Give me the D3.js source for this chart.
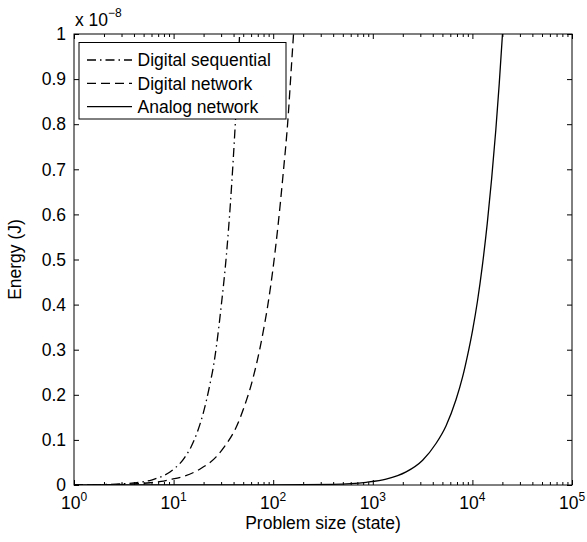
<!DOCTYPE html>
<html>
<head>
<meta charset="utf-8">
<script src="https://cdn.jsdelivr.net/npm/d3@7"></script>
<style>
  html, body { margin: 0; padding: 0; background: #fff; }
  svg { display: block; font-family: "Liberation Sans", Arial, Helvetica, sans-serif; }
</style>
</head>
<body>
<svg id="chart" width="587" height="542"></svg>
<script>
// ---- Data (energy in units of 1e-8 J) ----
const seqN = [1, 2, 3, 4, 5, 6, 7, 8, 9.2, 10.5, 11.5, 13, 15, 17.6, 20, 23, 25.5, 27, 30, 33.9, 37.2, 39.5, 41.7, 44, 46];
const seqE = [0, 0.001, 0.0025, 0.0046, 0.0074, 0.011, 0.016, 0.021, 0.029, 0.039, 0.047, 0.062, 0.085, 0.122, 0.162, 0.22, 0.272, 0.31, 0.395, 0.51, 0.625, 0.714, 0.804, 0.905, 1.0];

const netN = [1, 2, 3, 4, 5.8, 7.5, 9.2, 12.5, 18.3, 26.9, 33.9, 42.7, 53.7, 58, 62.7, 73.1, 80.1, 87, 99.3, 111.4, 125, 141.6, 150, 160];
const netE = [0, 0.0005, 0.0012, 0.0025, 0.005, 0.008, 0.012, 0.019, 0.035, 0.063, 0.091, 0.129, 0.187, 0.21, 0.237, 0.3, 0.345, 0.39, 0.478, 0.572, 0.683, 0.82, 0.905, 1.0];

const anaN = [1, 10, 100, 396, 857, 1360, 2160, 3165, 4310, 5430, 6840, 7960, 8930, 10020, 11250, 12600, 14100, 15600, 17180, 18600, 20050];
const anaE = [0, 0.00001, 0.0003, 0.0015, 0.006, 0.013, 0.029, 0.055, 0.092, 0.131, 0.189, 0.239, 0.287, 0.342, 0.408, 0.487, 0.58, 0.679, 0.787, 0.89, 1.0];

const seriesNames = ["Digital sequential", "Digital network", "Analog network"];
const xMajorTicks = [1, 10, 100, 1000, 10000, 100000];
const xTickExponents = ["0", "1", "2", "3", "4", "5"];
const yTicks = [0, 0.1, 0.2, 0.3, 0.4, 0.5, 0.6, 0.7, 0.8, 0.9, 1];
const yTickLabels = ["0", "0.1", "0.2", "0.3", "0.4", "0.5", "0.6", "0.7", "0.8", "0.9", "1"];

// ---- Layout ----
const L = 74, R = 572, T = 34, B = 485;
const FONT = 17.5;

const svg = d3.select("#chart");
const x = d3.scaleLog().domain([1, 1e5]).range([L, R]);
const y = d3.scaleLinear().domain([0, 1]).range([B, T]);

const xMinor = [];
for (let d = 0; d < 5; d++) for (let m = 2; m <= 9; m++) xMinor.push(m * Math.pow(10, d));

svg.append("clipPath").attr("id", "plotclip")
  .append("rect").attr("x", L).attr("y", T).attr("width", R - L).attr("height", B - T);

function styleAxis(g) {
  g.select(".domain").remove();
  g.selectAll(".tick line").attr("stroke", "#000").attr("stroke-width", 1);
  g.selectAll(".tick text").attr("fill", "#000").attr("font-size", FONT)
    .attr("font-family", '"Liberation Sans", Arial, sans-serif');
}

// Left axis
svg.append("g").attr("transform", `translate(${L},0)`)
  .call(d3.axisLeft(y).tickValues(yTicks).tickSize(-5).tickPadding(8)
    .tickFormat((d, i) => yTickLabels[i]))
  .call(styleAxis)
  .selectAll(".tick text").attr("dy", "0.33em");
// Right axis
svg.append("g").attr("transform", `translate(${R},0)`)
  .call(d3.axisRight(y).tickValues(yTicks).tickSize(-5).tickFormat(""))
  .call(styleAxis);
// Bottom axis major + minor
svg.append("g").attr("transform", `translate(0,${B})`)
  .call(d3.axisBottom(x).tickValues(xMajorTicks).tickSize(-5).tickFormat(""))
  .call(styleAxis);
svg.append("g").attr("transform", `translate(0,${B})`)
  .call(d3.axisBottom(x).tickValues(xMinor).tickSize(-3).tickFormat(""))
  .call(styleAxis);
// Top axis major + minor
svg.append("g").attr("transform", `translate(0,${T})`)
  .call(d3.axisTop(x).tickValues(xMajorTicks).tickSize(-5).tickFormat(""))
  .call(styleAxis);
svg.append("g").attr("transform", `translate(0,${T})`)
  .call(d3.axisTop(x).tickValues(xMinor).tickSize(-3).tickFormat(""))
  .call(styleAxis);

// x tick labels with superscripts
const xl = svg.append("g").selectAll("text").data(xMajorTicks).join("text")
  .attr("x", d => x(d)).attr("y", 509)
  .attr("text-anchor", "middle").attr("font-size", FONT).attr("fill", "#000");
xl.append("tspan").text("10");
xl.append("tspan").attr("dy", -8).attr("font-size", 12).text((d, i) => xTickExponents[i]);

// Frame
svg.append("rect").attr("x", L).attr("y", T).attr("width", R - L).attr("height", B - T)
  .attr("fill", "none").attr("stroke", "#000").attr("stroke-width", 1);

// Exponent label
const ex = svg.append("text").attr("x", 75).attr("y", 26).attr("font-size", FONT).attr("fill", "#000");
ex.append("tspan").text("x 10");
ex.append("tspan").attr("dy", -9).attr("font-size", 12).text("\u22128");

// Axis labels
svg.append("text").attr("x", (L + R) / 2).attr("y", 529).attr("text-anchor", "middle")
  .attr("font-size", FONT).attr("fill", "#000").text("Problem size (state)");
svg.append("text").attr("transform", `translate(21,${(T + B) / 2}) rotate(-90)`)
  .attr("text-anchor", "middle").attr("font-size", FONT).attr("fill", "#000").text("Energy (J)");

// Curves
const styles = [
  { dash: "9,4,1.5,4" },
  { dash: "9,5" },
  { dash: null }
];
const series = [
  seqN.map((n, i) => [n, seqE[i]]),
  netN.map((n, i) => [n, netE[i]]),
  anaN.map((n, i) => [n, anaE[i]])
];
const line = d3.line().x(d => x(d[0])).y(d => y(d[1])).curve(d3.curveMonotoneX);
const gl = svg.append("g").attr("clip-path", "url(#plotclip)");
series.forEach((s, i) => {
  gl.append("path").datum(s).attr("d", line)
    .attr("fill", "none").attr("stroke", "#000").attr("stroke-width", 1.3)
    .attr("stroke-dasharray", styles[i].dash);
});

// Legend
const lg = svg.append("g");
lg.append("rect").attr("x", 79).attr("y", 42.5).attr("width", 207).attr("height", 76.5)
  .attr("fill", "#fff").attr("stroke", "#000").attr("stroke-width", 1);
seriesNames.forEach((name, i) => {
  const cy = 60 + i * 23.3;
  lg.append("line").attr("x1", 87).attr("x2", 132).attr("y1", cy).attr("y2", cy)
    .attr("stroke", "#000").attr("stroke-width", 1.3).attr("stroke-dasharray", styles[i].dash);
  lg.append("text").attr("x", 137.5).attr("y", cy).attr("dy", "0.36em")
    .attr("font-size", FONT).attr("fill", "#000").text(name);
});
</script>
</body>
</html>
